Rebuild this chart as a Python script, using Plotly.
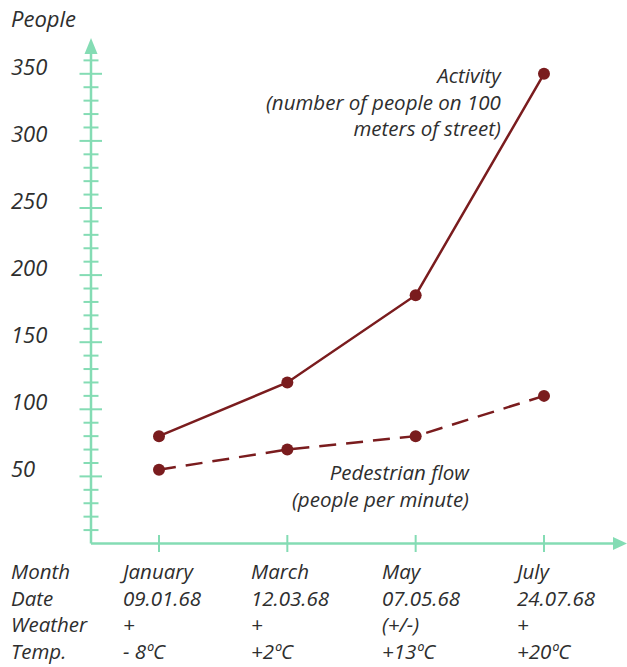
import plotly.graph_objects as go

# ---- data ----
months = ["January", "March", "May", "July"]
dates = ["09.01.68", "12.03.68", "07.05.68", "24.07.68"]
weather = ["+", "+", "(+/-)", "+"]
temps = ["- 8ºC", "+2ºC", "+13ºC", "+20ºC"]
row_titles = ["Month", "Date", "Weather", "Temp."]
activity = [80, 120, 185, 350]
pedestrian_flow = [55, 70, 80, 110]
y_major = [50, 100, 150, 200, 250, 300, 350]
y_minor = [v for v in range(10, 361, 10) if v % 50 != 0]
activity_label = ["Activity", "(number of people on 100", "meters of street)"]
flow_label = ["Pedestrian flow", "(people per minute)"]

# ---- styling ----
W, H = 627, 667
AXIS = "#84dcb4"
LINE = "#7a1c1e"
TEXT = "#2e2e2e"
FONT = "Open Sans"
FS_SINGLE = 22
FS_BLOCK = 20.5   # 1.3 line spacing -> ~26.7 px between lines

# data <-> pixel geometry
X0_PX, DX_PX = 159.0, 128.33      # pixel of first category, pixels per category
Y0_PX, DY_PX = 543.5, 1.342       # pixel of value 0, pixels per unit
x_rng = [(0 - X0_PX) / DX_PX, (W - X0_PX) / DX_PX]
y_rng = [(Y0_PX - H) / DY_PX, Y0_PX / DY_PX]


def px_x(dx):
    return dx / DX_PX


def px_y(dy):
    return dy / DY_PX


xs = list(range(len(months)))

fig = go.Figure()

fig.add_trace(go.Scatter(
    x=xs, y=activity, mode="lines+markers",
    line=dict(color=LINE, width=2.5),
    marker=dict(color=LINE, size=12),
    hoverinfo="skip", showlegend=False))

fig.add_trace(go.Scatter(
    x=xs, y=pedestrian_flow, mode="lines+markers",
    line=dict(color=LINE, width=2.5, dash="17px,10px"),
    marker=dict(color=LINE, size=12),
    hoverinfo="skip", showlegend=False))

shapes = []
ax_x = -px_x(68)            # y-axis position
x_end = 3 + px_x(69)        # x-axis arrow base
x_tip = 3 + px_x(83)
y_end = px_y(Y0_PX - 54)    # y-axis arrow base
y_tip = px_y(Y0_PX - 38)

# axis lines
shapes.append(dict(type="line", x0=ax_x, x1=ax_x, y0=0, y1=y_end,
                   line=dict(color=AXIS, width=2.5), layer="below"))
shapes.append(dict(type="line", x0=ax_x, x1=x_end, y0=0, y1=0,
                   line=dict(color=AXIS, width=2.5), layer="below"))
# arrow heads
shapes.append(dict(type="path",
                   path=f"M {ax_x - px_x(6.5)} {y_end} L {ax_x + px_x(6.5)} {y_end} L {ax_x} {y_tip} Z",
                   fillcolor=AXIS, line=dict(width=0), layer="below"))
shapes.append(dict(type="path",
                   path=f"M {x_end} {-px_y(6.5)} L {x_end} {px_y(6.5)} L {x_tip} 0 Z",
                   fillcolor=AXIS, line=dict(width=0), layer="below"))
# y ticks crossing the axis
for v in y_major:
    shapes.append(dict(type="line", x0=ax_x - px_x(11.5), x1=ax_x + px_x(11),
                       y0=v, y1=v, line=dict(color=AXIS, width=2), layer="below"))
for v in y_minor:
    shapes.append(dict(type="line", x0=ax_x - px_x(7.5), x1=ax_x + px_x(7.5),
                       y0=v, y1=v, line=dict(color=AXIS, width=2), layer="below"))
# x ticks crossing the axis
for i in xs:
    shapes.append(dict(type="line", x0=i, x1=i, y0=-px_y(8.5), y1=px_y(8.5),
                       line=dict(color=AXIS, width=2), layer="below"))

annotations = []


def text(x, y, s, xref="paper", yref="paper", xanchor="left", yanchor="middle",
         align="left", yshift=0, size=FS_SINGLE):
    annotations.append(dict(x=x, y=y, xref=xref, yref=yref, text=s, showarrow=False,
                            xanchor=xanchor, yanchor=yanchor, align=align, yshift=yshift,
                            borderpad=0,
                            font=dict(family=FONT, size=size, color=TEXT, style="italic")))


def pxx(p):
    return p / W


def pxy(p):
    return 1 - p / H


# y axis title and tick labels
text(pxx(10), pxy(18), "People")
for v in y_major:
    text(pxx(10), v, str(v), yref="y", yshift=8)

# series labels
text(pxx(503), pxy(101.5), "<br>".join(activity_label),
     xanchor="right", align="right", size=FS_BLOCK)
text(pxx(471), pxy(485), "<br>".join(flow_label),
     xanchor="right", align="right", size=FS_BLOCK)

# table under the x axis: one text block per column
col_x = [10, 118, 250, 381, 512]
columns = [row_titles] + [[months[c], dates[c], weather[c], temps[c]] for c in xs]
for cx, col in zip(col_x, columns):
    text(pxx(cx), pxy(665.5), "<br>".join(col), yanchor="bottom", size=FS_BLOCK)

fig.update_layout(
    width=W, height=H,
    margin=dict(l=0, r=0, t=0, b=0),
    paper_bgcolor="white", plot_bgcolor="white",
    xaxis=dict(range=x_rng, visible=False, fixedrange=True),
    yaxis=dict(range=y_rng, visible=False, fixedrange=True),
    shapes=shapes, annotations=annotations,
    showlegend=False,
)

fig.write_html("out.html")
